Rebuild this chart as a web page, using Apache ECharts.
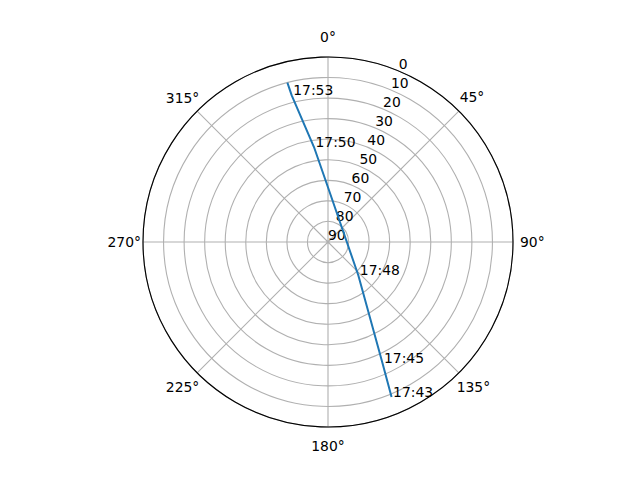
<!DOCTYPE html>
<html>
<head>
<meta charset="utf-8">
<script src="https://cdn.jsdelivr.net/npm/echarts@6/dist/echarts.min.js"></script>
<style>
html, body { margin: 0; background: #fff; }
#skyplot { width: 640px; height: 480px; }
</style>
</head>
<body>
<div id="skyplot"></div>
<script>
// pass track: elevation (deg) and azimuth (deg, clockwise from north)
const passTimes = ['17:43', '17:45', '17:48', '', '17:50', '17:53', ''];
const passElevation = [8.5, 25.3, 68.1, 64.8, 43.3, 16.5, 10.0];
const passAzimuth = [157.7, 155.8, 137.7, 1.1, 351.6, 346.1, 345.7];

const azimuthTicks = [0, 45, 90, 135, 180, 225, 270, 315];
const elevationTicks = [0, 10, 20, 30, 40, 50, 60, 70, 80, 90];

const track = passElevation.map((el, i) => [el, passAzimuth[i]]);
const labelled = track
    .map((p, i) => ({ value: p, name: passTimes[i] }))
    .filter(d => d.name !== '');

const font = { color: '#000', fontSize: 13.9, fontFamily: 'DejaVu Sans' };
const gridLine = { lineStyle: { color: '#b0b0b0', width: 1.1 } };
const center = [328, 242];

// echarts anchors angle labels by their corner, matplotlib centres them;
// nudge each compass label with padding so they sit like the original
const compassKey = ['n', 'ne', 'e', 'se', 's', 'sw', 'w', 'nw'];
const compassRich = {
    n:  { padding: [0, 0, 16, 0] },
    ne: { padding: [0, 0, 9, 3] },
    e:  { padding: [0, 0, 0, 10] },
    se: { padding: [9, 0, 0, 0] },
    s:  { padding: [15, 0, 0, 0] },
    sw: { padding: [9, 0, 0, 0] },
    w:  { padding: [0, 5, 0, 0] },
    nw: { padding: [0, 0, 8, 0] }
};
Object.keys(compassRich).forEach(k => Object.assign(compassRich[k], font));

let myChart = echarts.init(
    document.querySelector('#skyplot'),
    null,
    { width: 640, height: 480, renderer: 'svg' }
);

let option = {
    animation: false,
    backgroundColor: '#fff',
    polar: [
        { center: center, radius: 185 },
        // second polar only carries the elevation labels, rotated 22.5deg off north
        { center: center, radius: 185 }
    ],
    angleAxis: [
        {
            polarIndex: 0,
            type: 'value',
            min: 0,
            max: 360,
            interval: azimuthTicks[1] - azimuthTicks[0],
            startAngle: 90,
            clockwise: true,
            axisLine: { lineStyle: { color: '#000', width: 1.1 } },
            axisTick: { show: false },
            axisLabel: Object.assign({
                margin: -3,
                formatter: v => {
                    const a = v % 360;
                    const key = compassKey[azimuthTicks.indexOf(a)];
                    return '{' + key + '|' + a + '°}';
                },
                rich: compassRich
            }, font),
            splitLine: gridLine
        },
        {
            polarIndex: 1,
            type: 'value',
            min: 0,
            max: 360,
            startAngle: 67.5,
            show: false
        }
    ],
    radiusAxis: [
        {
            polarIndex: 0,
            type: 'value',
            min: elevationTicks[0],
            max: elevationTicks[elevationTicks.length - 1],
            interval: 10,
            inverse: true,
            axisLine: { show: false },
            axisTick: { show: false },
            axisLabel: { show: false },
            splitLine: gridLine
        },
        {
            polarIndex: 1,
            type: 'value',
            min: elevationTicks[0],
            max: elevationTicks[elevationTicks.length - 1],
            interval: 10,
            inverse: true,
            axisLine: { show: false },
            axisTick: { show: false },
            splitLine: { show: false },
            axisLabel: Object.assign({ margin: 0, align: 'left', verticalAlign: 'bottom' }, font)
        }
    ],
    series: [
        {
            type: 'line',
            coordinateSystem: 'polar',
            polarIndex: 0,
            data: track,
            symbol: 'none',
            lineStyle: { color: '#1f77b4', width: 2 },
            z: 3
        },
        {
            type: 'scatter',
            coordinateSystem: 'polar',
            polarIndex: 0,
            data: labelled,
            symbolSize: 1,
            itemStyle: { color: 'rgba(0,0,0,0)' },
            label: Object.assign({
                show: true,
                position: 'right',
                distance: 1,
                offset: [0, -5],
                opacity: 1,
                textBorderWidth: 0,
                formatter: '{b}'
            }, font),
            z: 4
        }
    ]
};

myChart.setOption(option);
</script>
</body>
</html>
